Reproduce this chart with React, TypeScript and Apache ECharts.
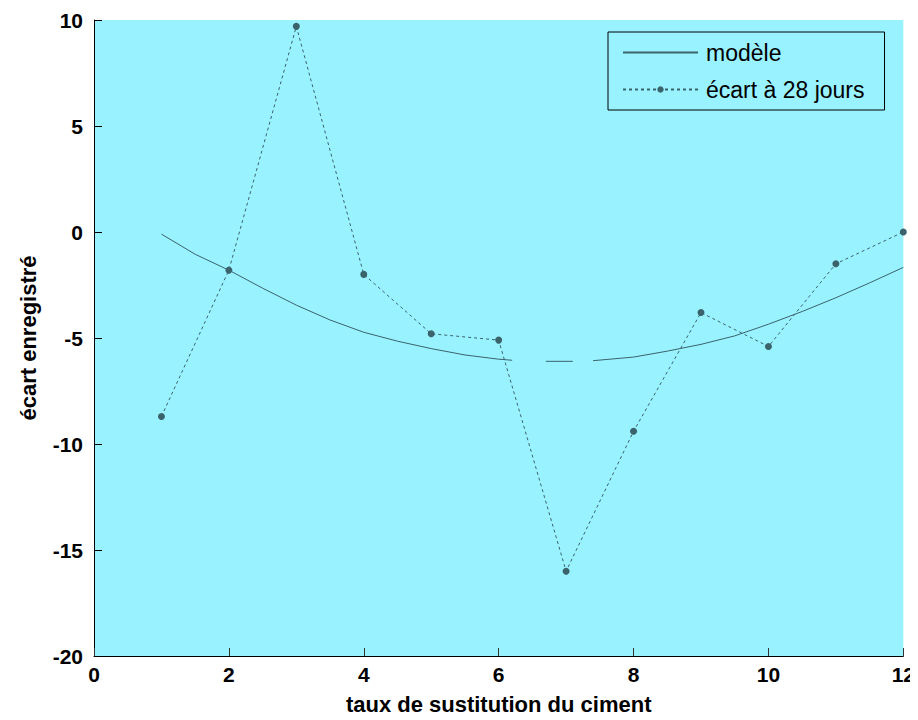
import React, { useEffect, useRef } from "react";
import * as echarts from "echarts";

// Substitution rate (x) for the fitted model curve; null marks a break in the line
const modelX = [1, 1.5, 2, 2.5, 3, 3.5, 4, 4.5, 5, 5.5, 6, 6.2, 6.45, 6.7, 7.1, 7.25, 7.4, 8, 8.5, 9, 9.5, 10, 10.5, 11, 11.5, 12];
const modelY: (number | null)[] = [-0.1, -1.05, -1.8, -2.65, -3.45, -4.15, -4.73, -5.15, -5.5, -5.8, -6.0, -6.05, null, -6.1, -6.1, null, -6.07, -5.9, -5.62, -5.3, -4.9, -4.35, -3.75, -3.1, -2.4, -1.67];

// Recorded deviation at 28 days
const tauxX = [1, 2, 3, 4, 5, 6, 7, 8, 9, 10, 11, 12];
const ecart28 = [-8.7, -1.8, 9.7, -2.0, -4.8, -5.1, -16.0, -9.4, -3.8, -5.4, -1.5, 0.0];

const xTicks = { min: 0, max: 12, interval: 2 };
const yTicks = { min: -20, max: 10, interval: 5 };

const FONT = "'Liberation Sans', Arial, sans-serif";
const INK = "#3b636b";

export default function App() {
  const ref = useRef<HTMLDivElement>(null);

  useEffect(() => {
    if (!ref.current) return;
    const chart = echarts.init(ref.current, undefined, { renderer: "svg" });

    const axisLabel = { color: "#000", fontFamily: FONT, fontWeight: "bold" as const, fontSize: 21 };
    const axisName = { color: "#000", fontFamily: FONT, fontWeight: "bold" as const, fontSize: 22 };

    chart.setOption({
      animation: false,
      backgroundColor: "#ffffff",
      grid: {
        left: 94,
        right: 14,
        top: 20,
        bottom: 62,
        show: true,
        backgroundColor: "#99f2ff",
        borderWidth: 0,
      },
      legend: {
        orient: "vertical",
        left: 608,
        top: 32,
        padding: [9, 20, 9, 14],
        itemWidth: 75,
        itemHeight: 8,
        itemGap: 14,
        borderColor: "#000",
        borderWidth: 1,
        backgroundColor: "#99f2ff",
        borderRadius: 0,
        textStyle: { color: "#000", fontFamily: FONT, fontSize: 23, padding: [0, 0, 0, 3] },
        data: [
          { name: "modèle", itemStyle: { opacity: 0 } },
          { name: "écart à 28 jours" },
        ],
      },
      xAxis: {
        type: "value",
        min: xTicks.min,
        max: xTicks.max,
        interval: xTicks.interval,
        name: "taux de sustitution du ciment",
        nameLocation: "middle",
        nameGap: 37,
        nameTextStyle: axisName,
        axisLine: { show: true, onZero: false, lineStyle: { color: "#000", width: 1 } },
        axisTick: { show: true, inside: true, length: 8, lineStyle: { color: "#333" } },
        axisLabel: { ...axisLabel, margin: 8 },
        splitLine: { show: false },
      },
      yAxis: {
        type: "value",
        min: yTicks.min,
        max: yTicks.max,
        interval: yTicks.interval,
        name: "écart enregistré",
        nameLocation: "middle",
        nameGap: 55,
        nameRotate: 90,
        nameTextStyle: axisName,
        axisLine: { show: true, onZero: false, lineStyle: { color: "#000", width: 1 } },
        axisTick: { show: true, inside: true, length: 8, lineStyle: { color: "#000" } },
        axisLabel: { ...axisLabel, margin: 11 },
        splitLine: { show: false },
      },
      series: [
        {
          name: "modèle",
          type: "line",
          symbol: "none",
          connectNulls: false,
          lineStyle: { color: INK, width: 1 },
          itemStyle: { color: INK },
          data: modelX.map((x, i) => [x, modelY[i] === null ? "-" : modelY[i]]),
        },
        {
          name: "écart à 28 jours",
          type: "line",
          symbol: "circle",
          symbolSize: 7,
          lineStyle: { color: INK, width: 1, type: [3, 3] },
          itemStyle: { color: INK },
          data: tauxX.map((x, i) => [x, ecart28[i]]),
        },
      ],
    });

    return () => chart.dispose();
  }, []);

  return <div ref={ref} style={{ width: 918, height: 720, margin: -8 }} />;
}
